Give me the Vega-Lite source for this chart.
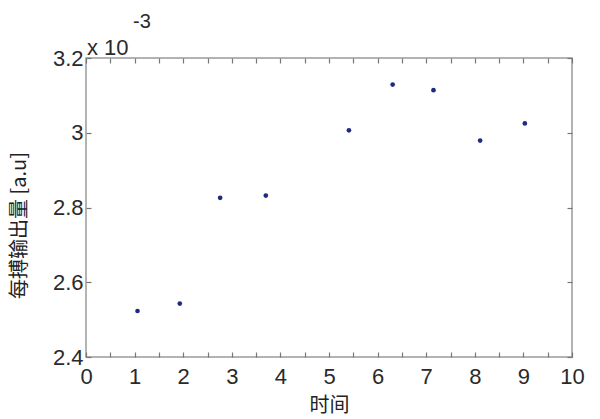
{
  "$schema": "https://vega.github.io/schema/vega-lite/v6.json",
  "width": 486,
  "height": 299,
  "autosize": {"type": "none"},
  "padding": {"left": 86, "top": 58, "right": 28, "bottom": 62},
  "background": "white",
  "config": {
    "view": {"stroke": "#9a9a9a", "strokeWidth": 1.5},
    "axis": {
      "grid": false,
      "domain": false,
      "tickColor": "#777777",
      "tickWidth": 1.2,
      "tickSize": 5,
      "offset": -5,
      "labelFont": "Liberation Sans",
      "labelFontSize": 22,
      "labelColor": "#2a2a2a",
      "titleFont": "Noto Sans CJK SC",
      "titleFontWeight": "normal",
      "titleColor": "#222222"
    }
  },
  "layer": [
    {
      "data": {
        "values": [
          {"t": 1.06, "sv": 0.002523},
          {"t": 1.93, "sv": 0.002543},
          {"t": 2.76, "sv": 0.002826},
          {"t": 3.70, "sv": 0.002832},
          {"t": 5.41, "sv": 0.0030065},
          {"t": 6.31, "sv": 0.003129},
          {"t": 7.15, "sv": 0.003114},
          {"t": 8.11, "sv": 0.002979},
          {"t": 9.03, "sv": 0.003025}
        ]
      },
      "mark": {"type": "point", "filled": true, "size": 22, "color": "#1f2a80", "opacity": 1},
      "encoding": {
        "x": {
          "field": "t", "type": "quantitative",
          "scale": {"domain": [0, 10], "nice": false, "zero": false},
          "axis": {
            "orient": "bottom",
            "values": [0,0.5,1,1.5,2,2.5,3,3.5,4,4.5,5,5.5,6,6.5,7,7.5,8,8.5,9,9.5,10],
            "labelExpr": "datum.value % 1 == 0 ? format(datum.value, 'd') : ''",
            "labelPadding": 9,
            "labelFlush": false,
            "title": "时间",
            "titleFontSize": 20,
            "titlePadding": 8
          }
        },
        "y": {
          "field": "sv", "type": "quantitative",
          "scale": {"domain": [0.0024, 0.0032], "nice": false, "zero": false},
          "axis": {
            "orient": "left",
            "values": [0.0024, 0.0026, 0.0028, 0.003, 0.0032],
            "labelExpr": "format(datum.value * 1000, '.1~f')",
            "labelPadding": 3,
            "labelFlush": false,
            "title": "每搏输出量 [a.u]",
            "titleFontSize": 20,
            "titleAngle": -90,
            "titleX": -72,
            "titleY": 167,
            "titleAlign": "center",
            "titleBaseline": "middle"
          }
        }
      }
    },
    {
      "data": {
        "values": [
          {"t": 1.06, "sv": 0.002523},
          {"t": 9.03, "sv": 0.003025}
        ]
      },
      "mark": {"type": "point", "filled": true, "size": 18, "opacity": 0},
      "encoding": {
        "x": {
          "field": "t", "type": "quantitative",
          "axis": {
            "orient": "top",
            "values": [0,0.5,1,1.5,2,2.5,3,3.5,4,4.5,5,5.5,6,6.5,7,7.5,8,8.5,9,9.5,10],
            "labels": false, "title": null
          }
        },
        "y": {
          "field": "sv", "type": "quantitative",
          "axis": {
            "orient": "right",
            "values": [0.0024, 0.0026, 0.0028, 0.003, 0.0032],
            "labels": false, "title": null
          }
        }
      }
    },
    {
      "data": {"values": [{"label": "x 10", "sup": "-3", "t": 0, "sv": 0.0032}]},
      "layer": [
        {
          "mark": {"type": "text", "font": "Liberation Sans", "fontSize": 22, "fontWeight": "normal", "color": "#2a2a2a", "align": "left", "baseline": "alphabetic", "dx": 1, "dy": -3},
          "encoding": {
            "text": {"field": "label"},
            "x": {"field": "t", "type": "quantitative", "axis": null},
            "y": {"field": "sv", "type": "quantitative", "axis": null}
          }
        },
        {
          "mark": {"type": "text", "font": "Liberation Sans", "fontSize": 20, "fontWeight": "normal", "color": "#2a2a2a", "align": "left", "baseline": "alphabetic", "dx": 47, "dy": -30},
          "encoding": {
            "text": {"field": "sup"},
            "x": {"field": "t", "type": "quantitative", "axis": null},
            "y": {"field": "sv", "type": "quantitative", "axis": null}
          }
        }
      ]
    }
  ],
  "resolve": {"axis": {"x": "independent", "y": "independent"}}
}
